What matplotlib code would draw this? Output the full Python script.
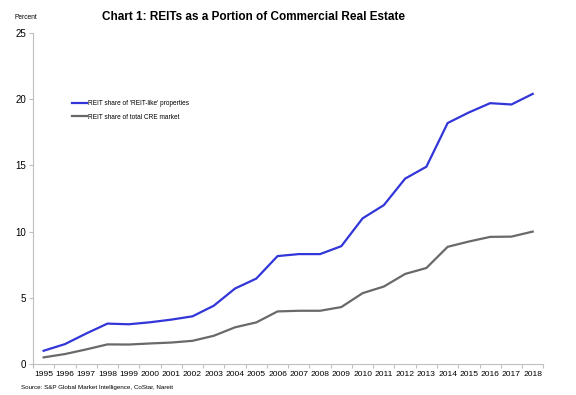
import numpy as np
import matplotlib
matplotlib.use("Agg")
import matplotlib.pyplot as plt

plt.rcParams['font.family'] = ['Liberation Sans', 'DejaVu Sans']

years = list(range(1995, 2019))
reit_like = [1.0, 1.5, 2.3, 3.05, 3.0, 3.15, 3.35, 3.6, 4.4, 5.7, 6.45, 8.15, 8.3, 8.3,
             8.9, 11.0, 12.0, 14.0, 14.9, 18.2, 19.0, 19.7, 19.6, 20.4]
total_cre = [0.5, 0.75, 1.1, 1.48, 1.47, 1.55, 1.62, 1.75, 2.13, 2.77, 3.14, 3.97, 4.02, 4.02,
             4.3, 5.35, 5.85, 6.8, 7.25, 8.85, 9.25, 9.6, 9.62, 10.0]

fig = plt.figure(figsize=(5.76, 3.95), dpi=100)
ax = fig.add_axes([0.0573, 0.0785, 0.886, 0.838])

ax.plot(years, reit_like, color='#3236d8', lw=1.6, label="REIT share of 'REIT-like' properties")
ax.plot(years, total_cre, color='#696969', lw=1.6, label="REIT share of total CRE market")

ax.set_xlim(1994.5, 2018.5)
ax.set_ylim(0, 25)
ax.set_yticks([0, 5, 10, 15, 20, 25])
ax.set_xticks(years)
ax.set_xticklabels([str(y) for y in years], fontsize=6.1)
ax.set_xticks(np.arange(1994.5, 2019, 1), minor=True)
ax.tick_params(axis='x', which='major', length=0, pad=5)
ax.tick_params(axis='x', which='minor', length=3, color='#bfbfbf', width=0.8)
ax.tick_params(axis='y', length=3, color='#bfbfbf', width=0.8, labelsize=7, pad=2)

for s in ['top', 'right']:
    ax.spines[s].set_visible(False)
for s in ['left', 'bottom']:
    ax.spines[s].set_color('#bfbfbf')
    ax.spines[s].set_linewidth(0.8)

leg = ax.legend(loc='upper left', bbox_to_anchor=(0.065, 0.815), frameon=False,
                fontsize=4.7, handlelength=2.3, handletextpad=0.1, labelspacing=1.0)

fig.text(0.44, 0.958, "Chart 1: REITs as a Portion of Commercial Real Estate",
         ha='center', va='center', fontsize=8.5, fontweight='bold')
fig.text(0.026, 0.956, "Percent", ha='left', va='center', fontsize=4.8)
fig.text(0.036, 0.018, "Source: S&P Global Market Intelligence, CoStar, Nareit",
         ha='left', va='center', fontsize=4.5)

fig.savefig("out.png", dpi=100)
